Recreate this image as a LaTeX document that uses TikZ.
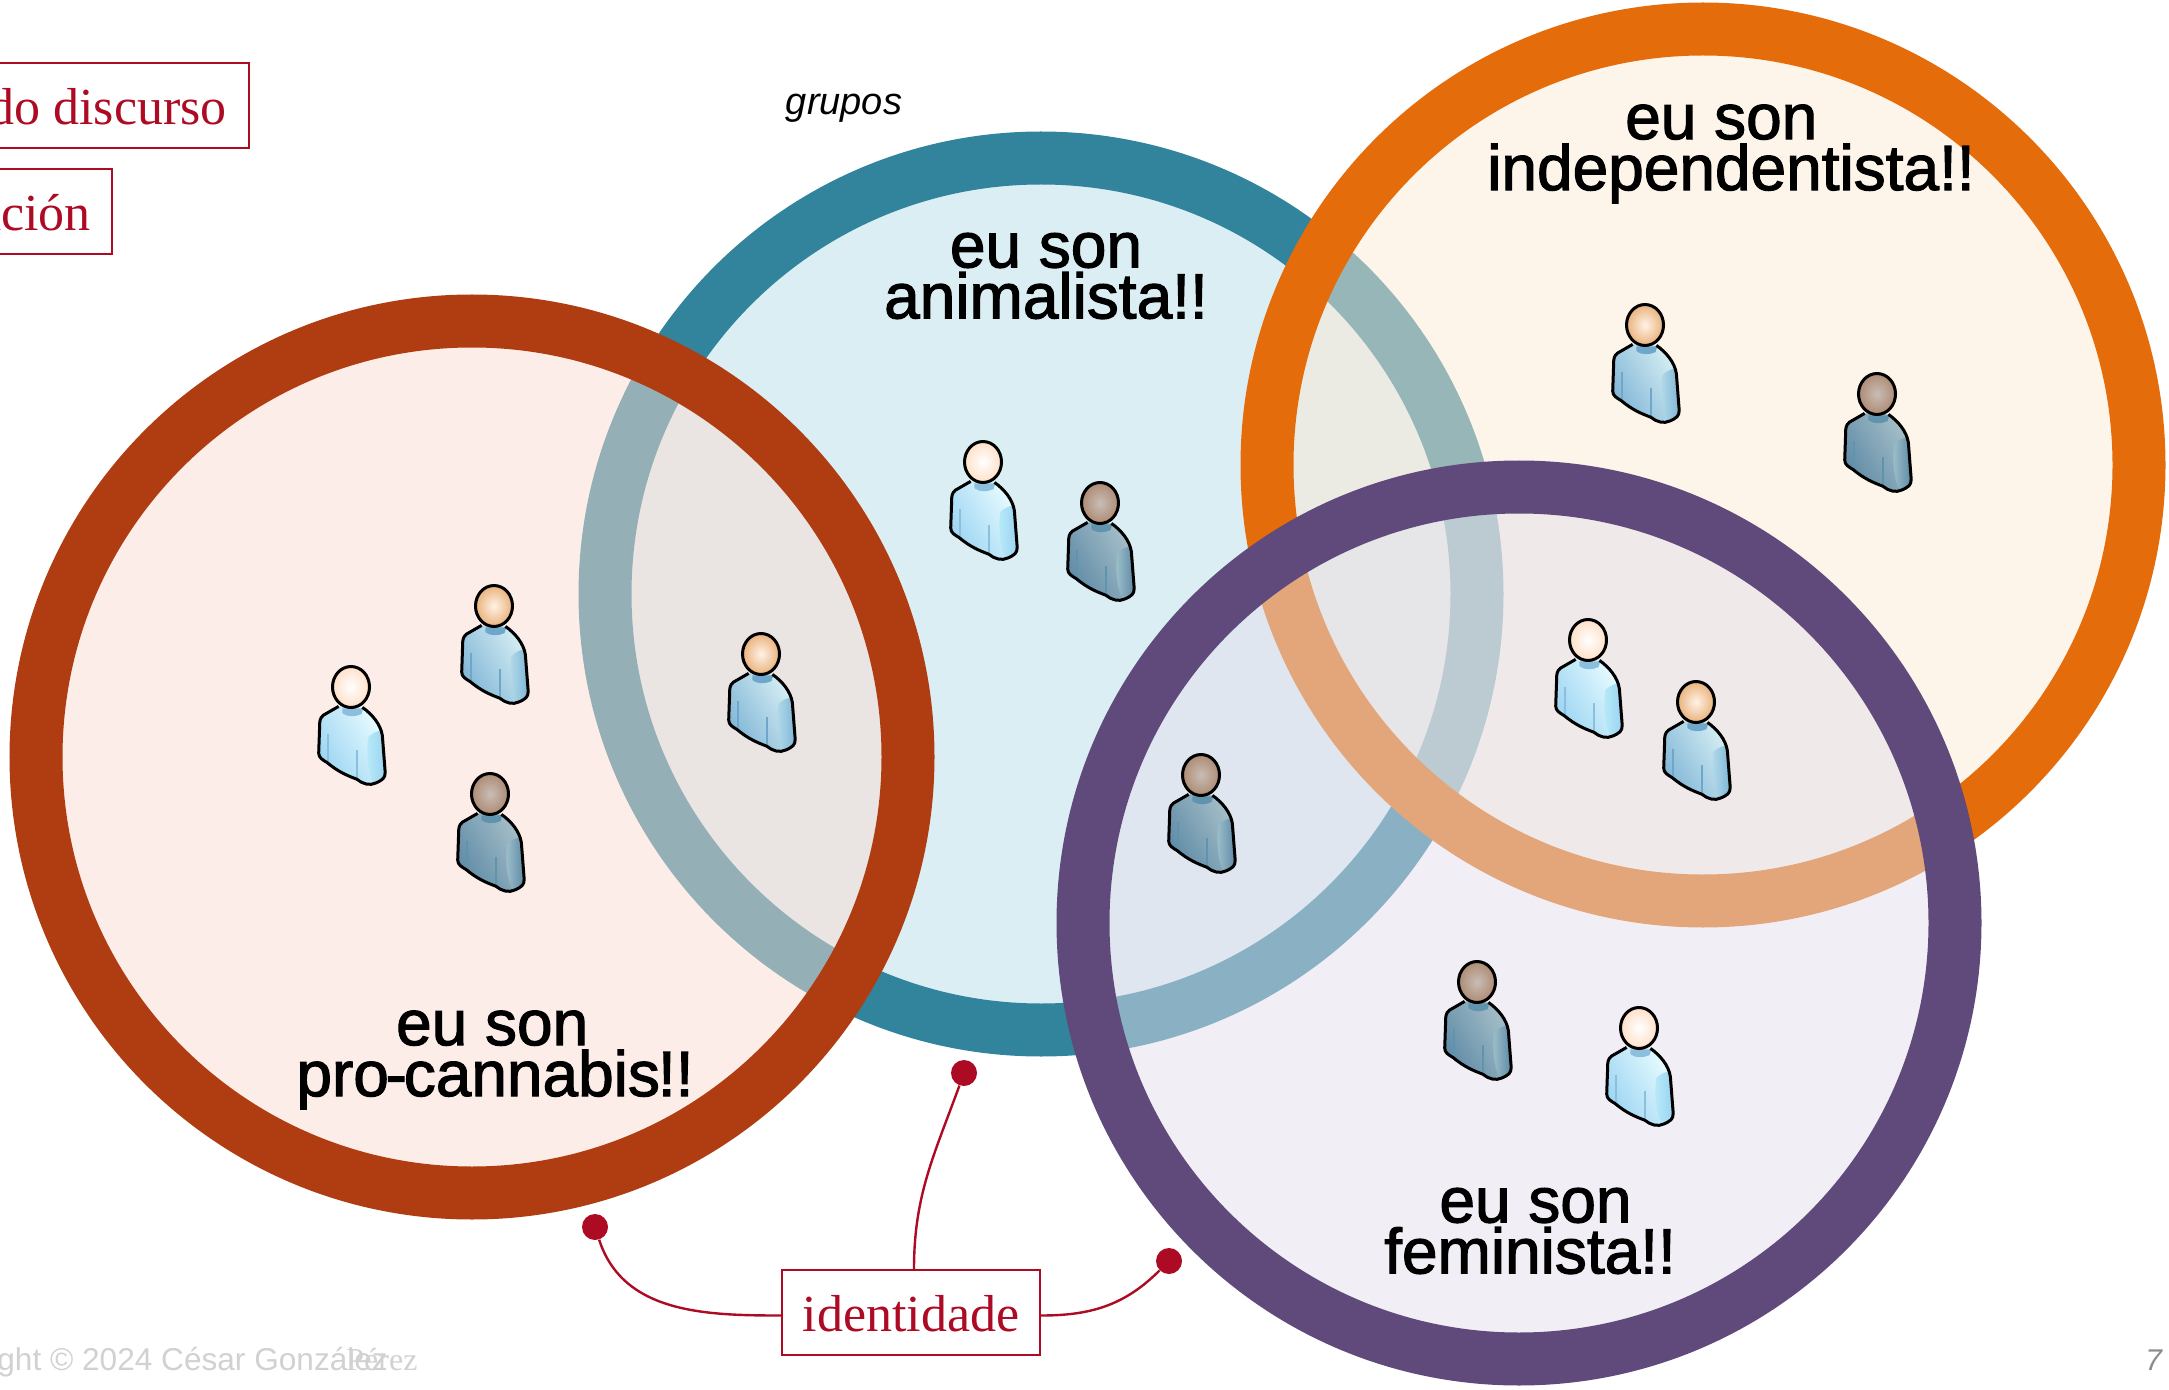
\documentclass[tikz,border=0pt]{standalone}
\usepackage{fontspec}
\setmainfont{Liberation Serif}
\setsansfont{Liberation Sans}
\newfontfamily\shoutfont[FakeBold=1.8]{Liberation Sans}
\usetikzlibrary{positioning}
\usetikzlibrary{calc}

\definecolor{inkred}{HTML}{AD0A24}
\definecolor{ringblue}{HTML}{31849B}
\definecolor{ringred}{HTML}{B03C12}
\definecolor{ringorange}{HTML}{E46C0A}
\definecolor{ringpurple}{HTML}{604A7B}
\definecolor{fillblue}{HTML}{B7DDE9}
\definecolor{fillred}{HTML}{F9DBD1}
\definecolor{fillorange}{HTML}{FBE9D5}
\definecolor{fillpurple}{HTML}{E3DFEB}

\definecolor{headA}{HTML}{FFFFFF}
\definecolor{headAe}{HTML}{FFE0C8}
\definecolor{bodyA}{HTML}{E8FBFF}
\definecolor{bodyAe}{HTML}{9AD4F2}
\definecolor{armA}{HTML}{B8EAF8}
\definecolor{neckA}{HTML}{8CBFDD}
\definecolor{headB}{HTML}{FFF2E6}
\definecolor{headBe}{HTML}{E9B27C}
\definecolor{bodyB}{HTML}{D6EEF3}
\definecolor{bodyBe}{HTML}{7FB5D6}
\definecolor{armB}{HTML}{B4DCEA}
\definecolor{neckB}{HTML}{6FA6CC}
\definecolor{headC}{HTML}{C9BDB6}
\definecolor{headCe}{HTML}{AD8B74}
\definecolor{bodyC}{HTML}{A6BFC8}
\definecolor{bodyCe}{HTML}{5E8AA6}
\definecolor{armC}{HTML}{A0C0CC}
\definecolor{neckC}{HTML}{5F93AE}

\newcommand{\personshape}[6]{
    % body, arm, folds, neck and then the head on top
    \begin{scope}[xscale=0.95, yscale=0.97]
    \path[left color=#3, right color=#4, shading angle=-60]
        (-13,20) -- (-29,29) .. controls (-33,32) and (-33,36) .. (-33,40)
        -- (-34,68) .. controls (-34,73) and (-30,75) .. (-25,78)
        .. controls (-14,87) and (-5,91) .. (6,95)
        .. controls (12,100) and (20,102) .. (26,99)
        .. controls (33,96) and (36,94) .. (36,88)
        -- (33,50) .. controls (31,38) and (22,28) .. (12,21) -- cycle;
    \path[left color=#5, right color=#4]
        (18,52) .. controls (24,46) and (30,44) .. (33,46)
        -- (36,88) .. controls (36,94) and (30,98) .. (24,99)
        .. controls (18,90) and (16,70) .. (18,52) -- cycle;
    \fill[#6] (-9,22) -- (13,22) -- (11,28) .. controls (4,31) and (-4,31) .. (-9,27) -- cycle;
    \draw[#6, line width=0.8pt] (-24,48) -- (-24,76) (6,65) -- (6,94);
    \draw[black, line width=1.5pt, line join=round]
        (-13,20) -- (-29,29) .. controls (-33,32) and (-33,36) .. (-33,40)
        -- (-34,68) .. controls (-34,73) and (-30,75) .. (-25,78)
        .. controls (-14,87) and (-5,91) .. (6,95)
        .. controls (12,100) and (20,102) .. (26,99)
        .. controls (33,96) and (36,94) .. (36,88)
        -- (33,50) .. controls (31,38) and (22,28) .. (12,21);
    \end{scope}
    \draw[black, line width=1.5pt, inner color=#1, outer color=#2] (0,0) ellipse (18.5 and 20.5);
}

\tikzset{
    ring/.style={circle, inner sep=0pt, outer sep=0pt, minimum size=436pt, line width=26.5pt, fill opacity=0.5, draw opacity=1},
    shout/.style={align=center, font=\shoutfont\fontsize{32}{25.5}\selectfont, inner sep=0pt},
    tagbox/.style={draw=inkred, line width=1.2pt, text=inkred, text height=19.3pt, font=\fontsize{26}{30}\selectfont},
    pin/.style={circle, fill=inkred, inner sep=0pt, minimum size=13pt},
    tagline/.style={draw=inkred, line width=1.2pt},
    footnote/.style={text=black!18, inner sep=0pt, anchor=base west},
    lightperson/.pic={\personshape{headA}{headAe}{bodyA}{bodyAe}{armA}{neckA}},
    tanperson/.pic={\personshape{headB}{headBe}{bodyB}{bodyBe}{armB}{neckB}},
    darkperson/.pic={\personshape{headC}{headCe}{bodyC}{bodyCe}{armC}{neckC}},
}

\begin{document}
\begin{tikzpicture}[x=0.5pt, y=-0.5pt]
    \useasboundingbox (0,0) rectangle (2169,1390);

    \node[ring, draw=ringblue, fill=fillblue] (Rblue) at (1041,594) {};
    \node[ring, draw=ringred, fill=fillred] (Rred) at (472,757) {};
    \node[ring, draw=ringorange, fill=fillorange] (Rorange) at (1703,465) {};
    \node[ring, draw=ringpurple, fill=fillpurple] (Rpurple) at (1519,923) {};

    \node[shout] (Tblue) at (1046,276) {eu son\\animalista!!};
    \node[shout] (Tred) at (495,1060) {eu son\hspace*{2.8pt}\\pro\kern-1.6pt-\kern-1.6pt cannabis\kern-1pt!!};
    \node[shout] (Torange) at (1731,154) {eu son\hspace*{9.7pt}\\independentista!!};
    \node[shout] (Tpurple) at (1530,1231) {\hspace*{5.5pt}eu son\\feminista!!};

    \node[font=\sffamily\itshape\fontsize{19}{22}\selectfont] (Tgroups) at (844,108) {grupos};

    \pic (P1) at (983,462) {lightperson};
    \pic (P2) at (1100,503) {darkperson};
    \pic (P3) at (351,687) {lightperson};
    \pic (P4) at (494,606) {tanperson};
    \pic (P5) at (490,794) {darkperson};
    \pic (P6) at (761,654) {tanperson};
    \pic (P7) at (1645,325) {tanperson};
    \pic (P8) at (1877,394) {darkperson};
    \pic (P9) at (1588,640) {lightperson};
    \pic (P10) at (1696,702) {tanperson};
    \pic (P11) at (1201,775) {darkperson};
    \pic (P12) at (1477,982) {darkperson};
    \pic (P13) at (1639,1028) {lightperson};

    \node[tagbox, anchor=east, minimum height=42.5pt, inner xsep=11pt] (Bspeech) at (250,105.5) {do discurso};
    \node[tagbox, anchor=east, minimum height=42.5pt, inner xsep=10.5pt] (Baction) at (113,211.5) {ación};
    \node[tagbox, minimum height=42.5pt, minimum width=129pt, inner sep=0pt] (Bidentity) at (911,1312.5) {identidade};

    \node[pin] (Pa) at (595,1227) {};
    \node[pin] (Pb) at (964,1073) {};
    \node[pin] (Pc) at (1169,1261) {};

    \draw[tagline] ($(Bidentity.west)+(0,3)$) to[out=180, in=-72] (Pa);
    \draw[tagline] ($(Bidentity.north)+(3,0)$) to[out=90, in=-110] (Pb);
    \draw[tagline] ($(Bidentity.east)+(0,3)$) to[out=0, in=-135] (Pc);

    \node[footnote, font=\sffamily\fontsize{15.8}{18}\selectfont] (Fcopy) at (-3,1370) {ght © 2024 César González};
    \node[footnote, font=\fontsize{16}{18}\selectfont] (Fname) at (346,1370) {Pérez};
    \node[text=black!45, inner sep=0pt, anchor=base west, font=\sffamily\itshape\fontsize{15}{18}\selectfont] (Fpage) at (2145,1370) {7};
\end{tikzpicture}
\end{document}
